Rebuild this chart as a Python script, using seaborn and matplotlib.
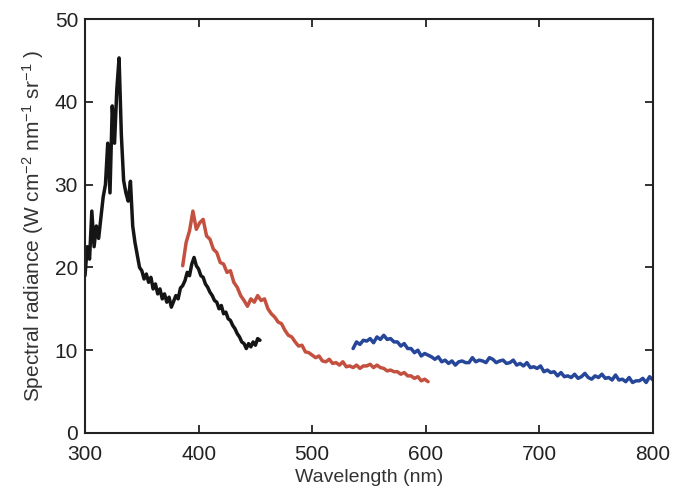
import numpy as np
import pandas as pd
import matplotlib
matplotlib.use('Agg')
import matplotlib.pyplot as plt
import seaborn as sns

# spectra (W cm-2 nm-1 sr-1)
black_start, black_step = 300, 2
black_vals = [19.0, 22.5, 21.0, 26.8, 22.5, 25.0, 23.5, 26.0, 28.5, 30.0,
              35.0, 29.0, 39.5, 35.0, 41.5, 45.3, 36.0, 30.5, 29.0, 28.0,
              30.4, 25.0, 23.0, 21.5, 20.0, 19.6, 18.6, 19.2, 18.2, 18.8,
              17.4, 18.0, 16.8, 17.4, 16.2, 16.8, 15.8, 16.4, 15.2, 15.9,
              16.6, 16.2, 17.5, 17.8, 18.4, 19.4, 19.0, 20.4, 21.2, 20.2,
              19.8, 19.0, 18.8, 18.0, 17.6, 17.0, 16.6, 16.0, 15.8, 15.0,
              15.4, 14.4, 14.6, 13.8, 13.6, 13.0, 12.6, 12.0, 11.6, 11.0,
              10.8, 10.2, 10.8, 10.4, 11.0, 10.6, 11.4, 11.2]

red_start, red_step = 386, 3
red_vals = [20.2, 23.0, 24.4, 26.8, 24.6, 25.4, 25.8, 23.8, 23.4, 22.2,
            21.8, 20.6, 20.4, 19.4, 19.6, 18.2, 17.6, 16.6, 16.0, 15.3,
            16.2, 15.8, 16.6, 16.0, 16.2, 15.0, 14.4, 14.0, 13.4, 13.2,
            12.4, 11.8, 11.6, 11.0, 10.5, 10.6, 9.8, 9.7, 9.4, 9.1,
            9.3, 8.7, 8.6, 8.9, 8.4, 8.5, 8.2, 8.6, 8.0, 8.1,
            7.9, 8.2, 7.8, 8.1, 8.1, 8.3, 7.9, 8.2, 7.9, 7.8,
            7.5, 7.6, 7.4, 7.4, 7.1, 7.3, 6.9, 6.9, 6.6, 6.8,
            6.3, 6.5, 6.2]

blue_start, blue_step = 536, 3
blue_vals = [10.2, 11.0, 10.7, 11.2, 11.1, 11.4, 10.9, 11.6, 11.3, 11.8,
             11.3, 11.4, 11.0, 11.0, 10.5, 10.8, 10.2, 10.2, 9.7, 10.0,
             9.3, 9.6, 9.4, 9.2, 8.9, 9.2, 8.6, 8.8, 8.4, 8.7,
             8.2, 8.6, 8.7, 8.5, 8.5, 9.1, 8.6, 8.8, 8.7, 8.5,
             9.1, 8.9, 8.5, 8.7, 8.8, 8.4, 8.5, 8.8, 8.2, 8.4,
             8.1, 8.5, 7.9, 8.0, 7.8, 8.1, 7.4, 7.6, 7.3, 7.4,
             6.9, 7.3, 6.8, 6.9, 6.7, 7.1, 6.6, 6.8, 7.2, 6.7,
             6.5, 6.9, 6.7, 7.1, 6.6, 6.7, 6.4, 7.0, 6.4, 6.5,
             6.2, 6.7, 6.1, 6.3, 6.3, 6.6, 6.1, 6.8, 6.4]

x_ticks = [300, 400, 500, 600, 700, 800]
y_ticks = [0, 10, 20, 30, 40, 50]

sns.set_style('ticks')
plt.rcParams['font.family'] = ['Liberation Sans', 'DejaVu Sans']
plt.rcParams['mathtext.default'] = 'regular'

fig = plt.figure(figsize=(6.75, 5.01), dpi=100)
ax = fig.add_axes([85 / 675, 68 / 501, 568 / 675, 414 / 501])

series = [(black_start, black_step, black_vals, '#151515'),
          (red_start, red_step, red_vals, '#c4503f'),
          (blue_start, blue_step, blue_vals, '#26469a')]
for start, step, vals, col in series:
    wl = start + step * np.arange(len(vals))
    df = pd.DataFrame({'wl': wl, 'rad': vals})
    sns.lineplot(data=df, x='wl', y='rad', color=col, linewidth=2.5, ax=ax)

ax.set_xlim(300, 800)
ax.set_ylim(0, 50)
ax.set_xticks(x_ticks)
ax.set_yticks(y_ticks)
ax.tick_params(direction='in', length=6, width=1.3, top=True, right=True,
               labelsize=15, colors='#222222')
ax.tick_params(axis='x', pad=9)
ax.tick_params(axis='y', pad=5)
for s in ax.spines.values():
    s.set_linewidth(1.5)
    s.set_color('#222222')

ax.set_xlabel('Wavelength (nm)', fontsize=14, color='#333333', labelpad=3)
ax.set_ylabel('Spectral radiance (W cm$^{-2}$ nm$^{-1}$ sr$^{-1}$ )',
              fontsize=15, color='#333333', labelpad=6)

fig.savefig('out.png', dpi=100)
